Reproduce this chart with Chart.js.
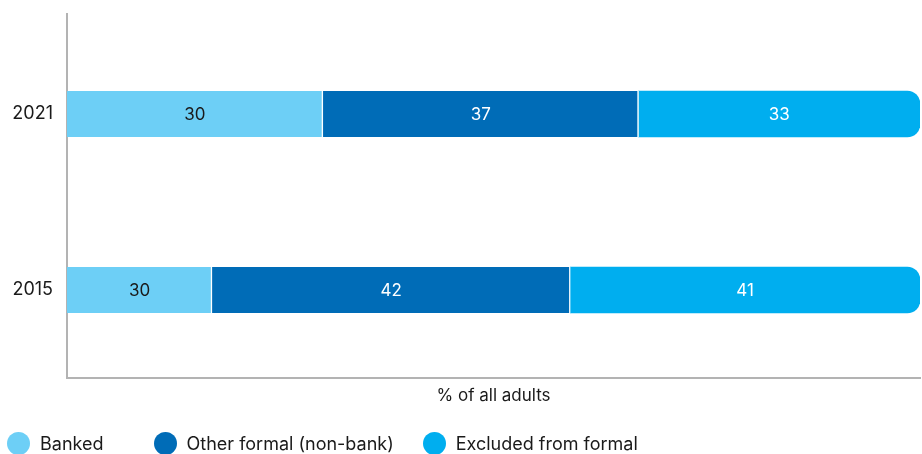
<!DOCTYPE html>
<html>
<head>
<meta charset="utf-8">
<script src="https://cdn.jsdelivr.net/npm/chart.js@4"></script>
<style>
html,body{margin:0;padding:0;background:#fff;overflow:hidden}
#wrap{position:relative;width:922px;height:454px}
#c{position:absolute;left:0;top:0}
#lg{position:absolute;left:7px;top:432px;display:flex;align-items:center;font-family:Inter,sans-serif;font-size:18px;color:#1a1a1a;white-space:nowrap}
.lg-item{display:flex;align-items:center}
.lg-dot{width:23px;height:23px;border-radius:50%;margin-right:10px}
.lg-item:nth-child(1){margin-right:50px}
.lg-item:nth-child(2){margin-right:29px}
</style>
</head>
<body>
<div id="wrap">
<canvas id="c" width="922" height="454"></canvas>
<div id="lg"></div>
</div>
<script>
// data
const years=['2021','2015'];
const seriesNames=['Banked','Other formal (non-bank)','Excluded from formal'];
const colors=['#6dcff6','#006cb7','#00aeef'];
const textColors=['#1a1a1a','#ffffff','#ffffff'];
const banked=[30,17];
const otherFormal=[37,42];
const excluded=[33,41];
// printed labels, as shown on the bars (2015 banked reads 30 in the source)
const bankedTxt=['30','30'];
const otherTxt=['37','42'];
const excludedTxt=['33','41'];

const FONT='Inter, sans-serif';
const txt=[bankedTxt,otherTxt,excludedTxt];

const barLabels={
    id:'barLabels',
    afterDatasetsDraw:function(chart){
        let ctx=chart.ctx;
        ctx.save();
        ctx.font='17px '+FONT;
        ctx.textAlign='center';
        ctx.textBaseline='middle';
        chart.data.datasets.forEach((ds,i)=>{
            chart.getDatasetMeta(i).data.forEach((bar,j)=>{
                let p=bar.getCenterPoint();
                ctx.fillStyle=textColors[i];
                ctx.fillText(txt[i][j],p.x,p.y+1);
            });
        });
        ctx.restore();
    }
};
// y axis line reaches a bit above the plot
const axisTop={
    id:'axisTop',
    afterDraw:function(chart){
        let a=chart.chartArea, ctx=chart.ctx;
        ctx.save();
        ctx.strokeStyle='#b3b3b3'; ctx.lineWidth=2;
        ctx.beginPath(); ctx.moveTo(a.left,13); ctx.lineTo(a.left,a.top); ctx.stroke();
        ctx.restore();
    }
};

const vals=[banked,otherFormal,excluded];
const datasets=vals.map((v,i)=>({
    label:seriesNames[i],
    data:v,
    backgroundColor:colors[i],
    borderColor:'#ffffff',
    borderWidth:i<2?{right:1.5,left:0,top:0,bottom:0}:0,
    borderSkipped:false,
    borderRadius:i===2?{topRight:13,bottomRight:13,topLeft:0,bottomLeft:0}:0,
    barThickness:46
}));

new Chart(document.getElementById('c'),{
    type:'bar',
    data:{labels:years,datasets:datasets},
    options:{
        indexAxis:'y',
        responsive:false,
        animation:false,
        layout:{padding:{left:10,right:2,top:26,bottom:47.6}},
        plugins:{legend:{display:false},tooltip:{enabled:false}},
        scales:{
            x:{stacked:true,min:0,max:100,
                grid:{display:false,drawTicks:false},
                border:{display:true,color:'#b3b3b3',width:2},
                ticks:{display:false},
                title:{display:true,text:'% of all adults',color:'#1a1a1a',font:{family:FONT,size:17},padding:{top:8,bottom:0}}
            },
            y:{stacked:true,
                afterFit:function(s){ s.width=57; },
                grid:{display:false,drawTicks:false},
                border:{display:true,color:'#b3b3b3',width:2},
                ticks:{color:'#1a1a1a',font:{family:FONT,size:18},padding:14}
            }
        }
    },
    plugins:[barLabels,axisTop]
});

let lg=document.getElementById('lg');
seriesNames.forEach((n,i)=>{
    lg.innerHTML+='<div class="lg-item"><span class="lg-dot" style="background:'+colors[i]+'"></span><span>'+n+'</span></div>';
});
</script>
</body>
</html>
